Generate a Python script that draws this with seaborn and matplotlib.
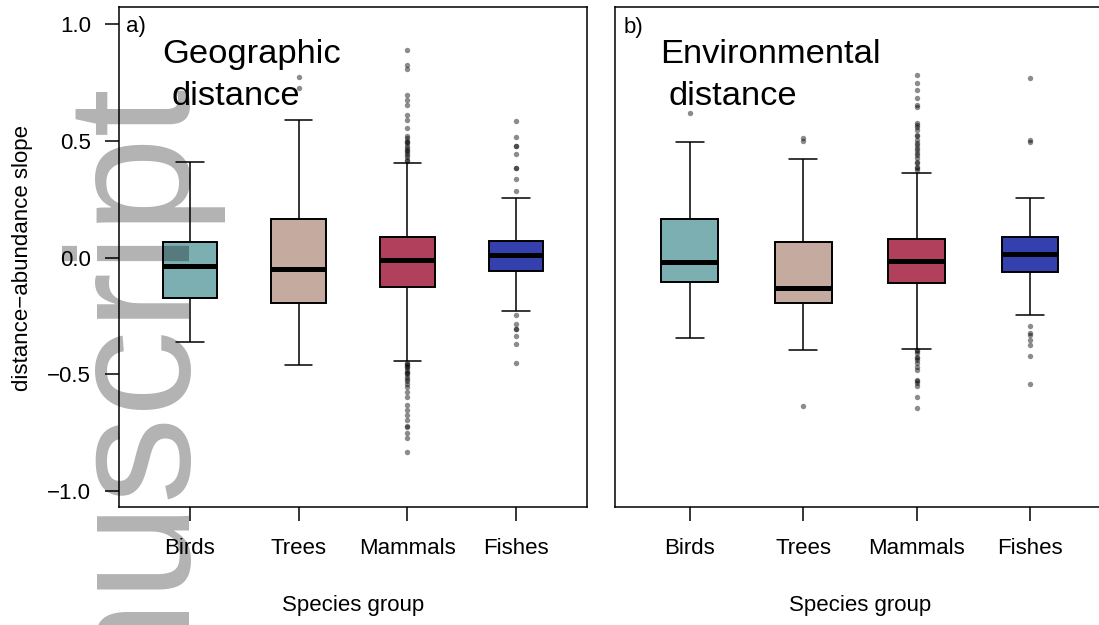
# Boxplots of distance-abundance slopes by species group (two panels)
import numpy as np
import pandas as pd
import matplotlib
matplotlib.use("Agg")
import matplotlib.pyplot as plt
import seaborn as sns

groups = ["Birds", "Trees", "Mammals", "Fishes"]
box_colors = ["#7BAFB2", "#C5AAA0", "#B0405C", "#3340AD"]
ytick_values = [-1.0, -0.5, 0.0, 0.5, 1.0]
ytick_labels = ["\u22121.0", "\u22120.5", "0.0", "0.5", "1.0"]

# panel a: geographic distance (whisker low, Q1, median, Q3, whisker high)
geo_lo = [-0.360, -0.460, -0.444, -0.227]
geo_q1 = [-0.173, -0.196, -0.127, -0.056]
geo_med = [-0.038, -0.048, -0.009, 0.009]
geo_q3 = [0.066, 0.166, 0.086, 0.073]
geo_hi = [0.410, 0.589, 0.404, 0.257]
geo_out_birds = []
geo_out_trees = [0.773, 0.727]
geo_out_mammals = [0.890, 0.826, 0.807, 0.698, 0.676, 0.653, 0.611, 0.590, 0.554,
                   0.520, 0.510, 0.500, 0.495, 0.490, 0.480, 0.470, 0.460, 0.455,
                   0.450, 0.440, 0.430, 0.420, 0.415,
                   -0.452, -0.455, -0.460, -0.467, -0.470, -0.481, -0.490, -0.495,
                   -0.500, -0.510, -0.520, -0.531, -0.540, -0.553, -0.574, -0.596,
                   -0.631, -0.652, -0.674, -0.695, -0.720, -0.724, -0.752, -0.774,
                   -0.831]
geo_out_fishes = [0.583, 0.518, 0.479, 0.479, 0.444, 0.383, 0.383, 0.337, 0.283,
                  -0.246, -0.284, -0.307, -0.307, -0.338, -0.370, -0.450]

# panel b: environmental distance
env_lo = [-0.345, -0.394, -0.390, -0.248]
env_q1 = [-0.103, -0.193, -0.107, -0.060]
env_med = [-0.020, -0.130, -0.013, 0.015]
env_q3 = [0.166, 0.066, 0.081, 0.089]
env_hi = [0.497, 0.421, 0.363, 0.253]
env_out_birds = [0.621]
env_out_trees = [0.512, 0.501, -0.634]
env_out_mammals = [0.780, 0.749, 0.717, 0.684, 0.653, 0.644, 0.578, 0.569, 0.560,
                   0.547, 0.526, 0.520, 0.504, 0.490, 0.483, 0.469, 0.460, 0.447,
                   0.440, 0.426, 0.410, 0.404, 0.390, 0.383, 0.375,
                   -0.395, -0.400, -0.410, -0.424, -0.430, -0.438, -0.452, -0.467,
                   -0.481, -0.524, -0.530, -0.536, -0.550, -0.596, -0.644]
env_out_fishes = [0.769, 0.504, 0.493, -0.293, -0.324, -0.331, -0.353, -0.374,
                  -0.420, -0.542]


def summary_frame(lo, q1, med, q3, hi):
    rows = []
    for g, vals in zip(groups, zip(lo, q1, med, q3, hi)):
        for v in vals:
            rows.append((g, v))
    return pd.DataFrame(rows, columns=["group", "slope"])


def outlier_frame(*lists):
    rows = []
    for g, vals in zip(groups, lists):
        for v in vals:
            rows.append((g, v))
    return pd.DataFrame(rows, columns=["group", "slope"])


geo_box = summary_frame(geo_lo, geo_q1, geo_med, geo_q3, geo_hi)
geo_out = outlier_frame(geo_out_birds, geo_out_trees, geo_out_mammals, geo_out_fishes)
env_box = summary_frame(env_lo, env_q1, env_med, env_q3, env_hi)
env_out = outlier_frame(env_out_birds, env_out_trees, env_out_mammals, env_out_fishes)

sns.set_theme(style="white")
plt.rcParams["font.family"] = ["Liberation Sans", "DejaVu Sans"]
plt.rcParams["text.color"] = "black"
plt.rcParams["axes.labelcolor"] = "black"

fig = plt.figure(figsize=(10.99, 6.25), dpi=100, facecolor="white")
ax_a = fig.add_axes([0.1080, 0.1883, 0.4264, 0.8])
ax_b = fig.add_axes([0.5599, 0.1883, 0.4450, 0.8])


def draw_panel(ax, box_df, out_df):
    sns.boxplot(data=box_df, x="group", y="slope", hue="group", order=groups,
                hue_order=groups, palette=box_colors, saturation=1, width=0.5,
                whis=(0, 100), showfliers=False, linecolor="black", linewidth=1.1,
                legend=False, ax=ax,
                boxprops={"linewidth": 1.4},
                medianprops={"linewidth": 3.6, "color": "black"})
    sns.stripplot(data=out_df, x="group", y="slope", order=groups, jitter=False,
                  color="black", alpha=0.45, size=3.9, linewidth=0, ax=ax)
    ax.set_xlim(-0.656, 3.656)
    ax.set_ylim(-1.07, 1.072)
    ax.set_xlabel("")
    ax.set_ylabel("")
    for s in ax.spines.values():
        s.set_visible(True)
        s.set_color("black")
        s.set_linewidth(1.1)
    ax.tick_params(axis="x", bottom=True, length=10, width=1.1, pad=12,
                   labelsize=16, colors="black")


draw_panel(ax_a, geo_box, geo_out)
draw_panel(ax_b, env_box, env_out)

ax_a.set_yticks(ytick_values)
ax_a.set_yticklabels(ytick_labels)
ax_a.tick_params(axis="y", left=True, length=10, width=1.1, pad=10,
                 labelsize=16, colors="black")
ax_b.set_yticks([])

# panel letters and titles
ax_a.text(0.015, 0.951, "a)", transform=ax_a.transAxes, fontsize=16, va="baseline")
ax_a.text(0.092, 0.888, "Geographic", transform=ax_a.transAxes, fontsize=24.8, va="baseline")
ax_a.text(0.113, 0.8046, "distance", transform=ax_a.transAxes, fontsize=24.8, va="baseline")
ax_b.text(0.016, 0.949, "b)", transform=ax_b.transAxes, fontsize=16, va="baseline")
ax_b.text(0.091, 0.888, "Environmental", transform=ax_b.transAxes, fontsize=24.8, va="baseline")
ax_b.text(0.108, 0.8046, "distance", transform=ax_b.transAxes, fontsize=24.8, va="baseline")

fig.text(23 / 1099, 1 - 258 / 625, "distance\u2212abundance slope", rotation=90,
         ha="center", va="center", fontsize=16)
fig.text(353 / 1099, 1 - 605 / 625, "Species group", ha="center", va="center", fontsize=16)
fig.text(860 / 1099, 1 - 605 / 625, "Species group", ha="center", va="center", fontsize=16)

# translucent watermark laid over the figure
fig.text(190 / 1099, 1 - 88 / 625, "Author Manuscript", rotation=90,
         rotation_mode="anchor", ha="right", va="baseline", fontsize=125,
         color="black", alpha=0.3, zorder=10)

fig.savefig("out.png", dpi=100)
